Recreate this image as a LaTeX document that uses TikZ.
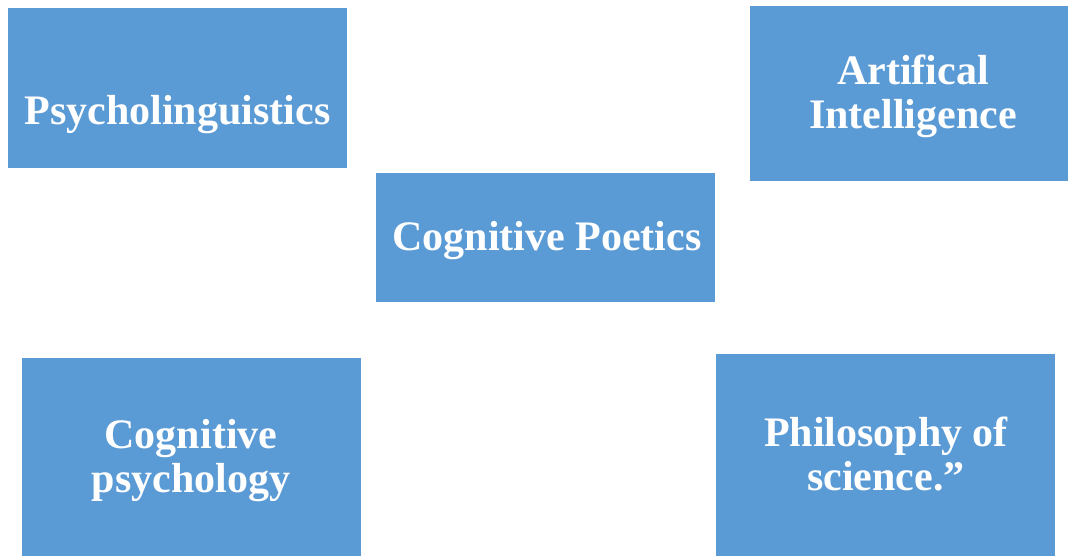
\documentclass[tikz,border=0pt]{standalone}
\usepackage{fontspec}
\setmainfont{Liberation Serif}
\definecolor{boxblue}{HTML}{5B9BD5}
\begin{document}
\begin{tikzpicture}[x=1pt,y=-1pt,
  box/.style={rectangle, fill=boxblue, draw=none, inner sep=0pt},
  lbl/.style={text=white, font=\fontsize{42}{44}\selectfont\bfseries, align=center, inner sep=0pt, text depth=0pt}]
\useasboundingbox (0,0) rectangle (1068,556);
\node[box, minimum width=339pt, minimum height=160pt] (b1) at (177.5,88) {};
\node[box, minimum width=318pt, minimum height=175pt] (b2) at (909,93.5) {};
\node[box, minimum width=339pt, minimum height=129pt] (b3) at (545.5,237.5) {};
\node[box, minimum width=339pt, minimum height=198pt] (b4) at (191.5,457) {};
\node[box, minimum width=339pt, minimum height=202pt] (b5) at (885.5,455) {};
\node[lbl] (t1) at (177.5,110) {Psycholinguistics};
\node[lbl] (t2) at (913,91.5) {Artifical\\Intelligence};
\node[lbl] (t3) at (547,236) {Cognitive Poetics};
\node[lbl] (t4) at (191,456) {Cognitive\\psychology};
\node[lbl] (t5) at (886,454) {Philosophy of\\science.”};
\end{tikzpicture}
\end{document}
